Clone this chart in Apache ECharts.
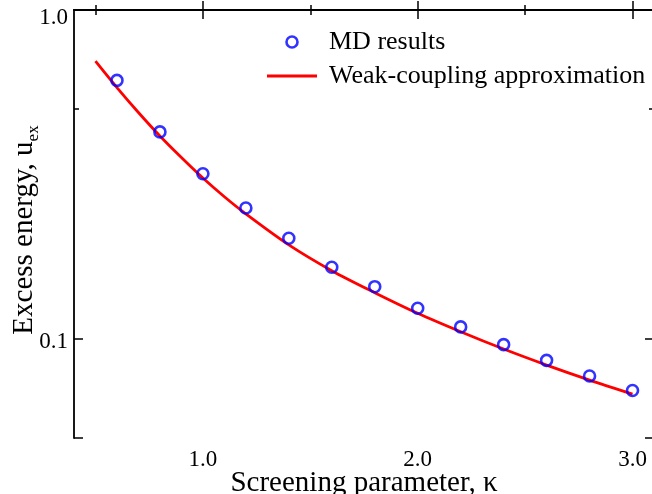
<!DOCTYPE html>
<html>
<head>
<meta charset="utf-8">
<script src="https://cdn.jsdelivr.net/npm/echarts@6/dist/echarts.min.js"></script>
<style>
  html, body { margin: 0; padding: 0; background: #fff; }
  #chart { width: 652px; height: 494px; }
</style>
</head>
<body>
<div id="chart"></div>
<script>
// MD data points (kappa, u_ex)
const mdKappa = [0.6, 0.8, 1.0, 1.2, 1.4, 1.6, 1.8, 2.0, 2.2, 2.4, 2.6, 2.8, 3.0];
const mdEnergy = [0.611, 0.426, 0.318, 0.250, 0.2024, 0.1652, 0.1442, 0.124, 0.1088, 0.0961, 0.0861, 0.0772, 0.0697];

// weak-coupling curve
const wcKappa = [0.5, 0.6, 0.7, 0.8, 0.9, 1.0, 1.1, 1.2, 1.4, 1.6, 1.8, 2.0, 2.2, 2.4, 2.6, 2.8, 3.0];
const wcEnergy = [0.699, 0.581, 0.488, 0.414, 0.356, 0.3085, 0.2706, 0.240, 0.1932, 0.1613, 0.1383, 0.1197, 0.1052, 0.0932, 0.0833, 0.0750, 0.0680];

const xMajorTicks = [1.0, 2.0, 3.0];
const xMinorTicks = [0.5, 1.5, 2.5];
const yMinorTicks = [0.5];

const font = '"Liberation Serif", "Times New Roman", serif';
const ink = '#000';

const chart = echarts.init(document.getElementById('chart'));

const axisLine = { show: true, lineStyle: { color: ink, width: 1.8 } };
const noLine = { show: false };

function xAxisDef(position, ticks, len, withLine, withLabels) {
  return {
    type: 'value', position: position, min: 0.4, max: 3.1,
    axisLine: withLine ? axisLine : noLine,
    axisTick: { show: true, inside: true, length: len, customValues: ticks, lineStyle: { color: ink, width: 1.5 } },
    axisLabel: withLabels
      ? { show: true, customValues: ticks, formatter: v => v.toFixed(1), margin: 10, fontFamily: font, fontSize: 23, color: ink }
      : { show: false },
    splitLine: { show: false }
  };
}

const xMain = xAxisDef('bottom', xMajorTicks, 9, true, true);
xMain.name = 'Screening parameter, κ';
xMain.nameLocation = 'middle';
xMain.nameGap = 31;
xMain.nameMoveOverlap = false;
xMain.nameTextStyle = { fontFamily: font, fontSize: 29, color: ink };

function logAxisDef(position, withLabels) {
  return {
    type: 'log', position: position, min: 0.05, max: 1, logBase: 10,
    axisLine: axisLine,
    axisTick: { show: true, inside: true, length: 9, lineStyle: { color: ink, width: 1.5 } },
    minorTick: { show: false },
    axisLabel: withLabels ? {
      show: true, margin: 6, fontFamily: font, fontSize: 23, color: ink,
      formatter: function (v) {
        if (Math.abs(v - 1) < 1e-6) return '{t|1.0}';
        if (Math.abs(v - 0.1) < 1e-6) return '{m|0.1}';
        return '';
      },
      rich: {
        t: { fontFamily: font, fontSize: 23, color: ink, padding: [16, 0, 0, 0] },
        m: { fontFamily: font, fontSize: 23, color: ink, padding: [5, 0, 0, 0] }
      }
    } : { show: false },
    splitLine: { show: false }
  };
}

function yMinorDef(position) {
  return {
    type: 'value', position: position, min: Math.log10(0.05), max: 0,
    axisLine: noLine,
    axisTick: { show: true, inside: true, length: 5, customValues: yMinorTicks.map(v => Math.log10(v)), lineStyle: { color: ink, width: 1.5 } },
    axisLabel: { show: false },
    splitLine: { show: false }
  };
}

const yMain = logAxisDef('left', true);
yMain.name = '{a|Excess energy, u}{b|ex}';
yMain.nameLocation = 'middle';
yMain.nameRotate = 90;
yMain.nameGap = 32;
yMain.nameMoveOverlap = false;
yMain.nameTextStyle = {
  fontFamily: font, color: ink, padding: [0, 12, 0, 0],
  rich: {
    a: { fontFamily: font, fontSize: 29, color: ink, lineHeight: 36 },
    b: { fontFamily: font, fontSize: 17, color: ink, lineHeight: 16, verticalAlign: 'bottom' }
  }
};

const option = {
  animation: false,
  backgroundColor: '#fff',
  grid: { left: 74, right: -2, top: 10, bottom: 56, containLabel: false, outerBoundsMode: 'none' },
  legend: {
    orient: 'vertical', left: 267, top: 29, padding: 0,
    itemWidth: 50, itemHeight: 11, itemGap: 8,
    textStyle: { fontFamily: font, fontSize: 26, color: ink, padding: [0, 0, 0, 7] },
    data: [
      { name: 'MD results', icon: 'circle', itemStyle: { color: 'rgba(0,0,0,0)', borderColor: '#0000ff', borderWidth: 2.6 } },
      { name: 'Weak-coupling approximation', icon: 'path://M0,0 L50,0 L50,2.8 L0,2.8 Z', itemStyle: { color: '#ff0000' } }
    ]
  },
  xAxis: [
    xMain,
    xAxisDef('bottom', xMinorTicks, 5, false, false),
    xAxisDef('top', xMajorTicks, 9, true, false),
    xAxisDef('top', xMinorTicks, 5, false, false)
  ],
  yAxis: [
    yMain,
    logAxisDef('right', false),
    yMinorDef('left'),
    yMinorDef('right')
  ],
  series: [
    {
      name: 'Weak-coupling approximation',
      type: 'line',
      xAxisIndex: 0, yAxisIndex: 0,
      data: wcKappa.map((k, i) => [k, wcEnergy[i]]),
      smooth: 0.3,
      showSymbol: false,
      symbol: 'none',
      lineStyle: { color: '#ff0000', width: 2.8 },
      itemStyle: { color: '#ff0000' },
      z: 2
    },
    {
      name: 'MD results',
      type: 'scatter',
      xAxisIndex: 0, yAxisIndex: 0,
      data: mdKappa.map((k, i) => [k, mdEnergy[i]]),
      symbol: 'circle',
      symbolSize: 11,
      itemStyle: { color: 'rgba(0,0,0,0)', borderColor: '#0000ff', borderWidth: 2.6 },
      z: 3
    }
  ]
};

chart.setOption(option);
</script>
</body>
</html>
